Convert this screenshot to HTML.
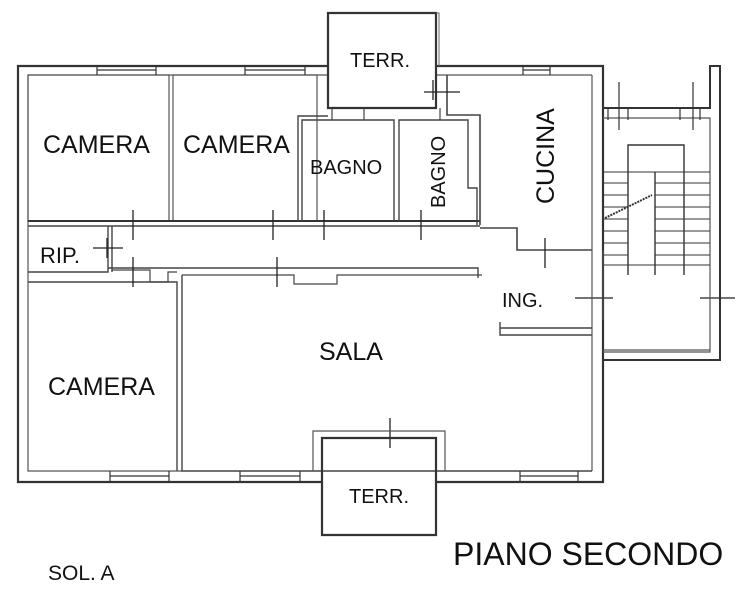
<!DOCTYPE html>
<html><head><meta charset="utf-8"><style>
html,body{margin:0;padding:0;background:#fff;width:742px;height:600px;overflow:hidden}
svg{display:block}
text{font-family:"Liberation Sans",Arial,sans-serif;fill:#111}
</style></head><body>
<svg width="742" height="600" viewBox="0 0 742 600" xmlns="http://www.w3.org/2000/svg">
<g fill="none" stroke="#333" stroke-width="1.6">
<path d="M328 66 H18 V482 H322" stroke-width="2.2"/>
<path d="M436 482 H603 V66 H436" stroke-width="2.2"/>
<path d="M28 75 H328 M436 75 H592 M28 75 V471 H182 M592 75 V471" stroke="#555" stroke-width="1.2"/>
<path d="M328 13 H436 V108 H328 Z" stroke-width="2.2"/>
<path d="M436 13 H439 V66" stroke="#666" stroke-width="1"/>
<rect x="28" y="75" width="141" height="146" stroke="#555" stroke-width="1.2"/>
<rect x="173" y="75" width="144" height="146" stroke="#555" stroke-width="1.2"/>
<path d="M28 221 H480" stroke-width="2"/>
<path d="M97 66 V75 M156 66 V75 M97 70 H156 M245 66 V75 M305 66 V75 M245 70 H305 M523 66 V75 M550 66 V75 M523 70 H550" stroke="#333" stroke-width="1.2"/>
<path d="M298 221 V116 H328 M302 221 V120 H394 V221 M399 221 V120 H468 V188 H477 V225" stroke="#444" stroke-width="1.4"/>
<path d="M332 108 V120 M364 108 V120 M440 108 V120" stroke="#444" stroke-width="1.2"/>
<path d="M447 75 V108 M447 80 V115 H480 V225 M480 228 H517 V250 H592" stroke="#444" stroke-width="1.6"/>
<path d="M108 226 H480 M108 268 H478 V278 M112 226 V272 M28 226 H108 V272 H28 M28 282 H177 V471 M182 275 V471 H592" stroke="#444" stroke-width="1.4"/>
<path d="M112 270 H150 V282 H168 V272 H177 M182 275 H294 V284 H337 V275 H482" stroke="#444" stroke-width="1.2"/>
<path d="M500 328 H592 M500 322 V335 H592" stroke="#444" stroke-width="1.4"/>
<path d="M133 210 V240 M273 210 V240 M324 210 V240 M421 210 V240 M133 257 V287 M277 257 V287 M545 238 V268 M93 248 H123 M107 238 V258 M424 92 H460 M433 80 V100 M390 418 V448 M575 298 H613 M700 298 H735" stroke="#222" stroke-width="1.3"/>
<path d="M110 471 V482 M169 471 V482 M110 476 H169 M240 471 V482 M300 471 V482 M240 476 H300 M520 471 V482 M578 471 V482 M520 476 H578" stroke="#333" stroke-width="1.2"/>
<path d="M313 471 V431 H445 V471" stroke="#555" stroke-width="1.2"/>
<path d="M322 438 H436 V535 H322 Z" stroke-width="2.2"/>
<path d="M603 66 V108 H710 V66 H720 V360 H603" stroke-width="2"/>
<path d="M603 118 H710 V352 H603 M603 350 H710" stroke="#555" stroke-width="1.2"/>
<path d="M608 108 V120 M628 108 V120 M680 108 V120 M700 108 V120 M619 82 V130 M693 82 V130" stroke="#333" stroke-width="1.2"/>
<path d="M628 275 V145 H684 V275 M655 172 V275" stroke="#333" stroke-width="1.4"/>
<path d="M603 172 H710 M603 183 H628 M603 195 H628 M603 207 H628 M603 219 H628 M603 231 H628 M603 243 H628 M603 255 H628 M603 265 H710 M655 183 H710 M655 195 H710 M655 207 H710 M655 219 H710 M655 231 H710 M655 243 H710 M655 255 H710" stroke="#333" stroke-width="1"/>
<path d="M605 218 L652 195" stroke="#333" stroke-width="2" stroke-dasharray="2 1"/>
<path d="M592 250 V320 M603 250 V320" stroke="#555" stroke-width="1"/>
</g>
<text x="43" y="153" font-size="25">CAMERA</text>
<text x="183" y="153" font-size="25">CAMERA</text>
<text x="310" y="174" font-size="20">BAGNO</text>
<text x="445" y="208" font-size="20" transform="rotate(-90 445 208)">BAGNO</text>
<text x="554" y="204" font-size="25" transform="rotate(-90 554 204)">CUCINA</text>
<text x="40" y="263" font-size="22">RIP.</text>
<text x="350" y="67" font-size="20">TERR.</text>
<text x="319" y="360" font-size="25">SALA</text>
<text x="48" y="395" font-size="25">CAMERA</text>
<text x="502" y="307" font-size="20">ING.</text>
<text x="349" y="503" font-size="20">TERR.</text>
<text x="453" y="565" font-size="32">PIANO SECONDO</text>
<text x="48" y="580" font-size="21">SOL. A</text>
</svg>
</body></html>
